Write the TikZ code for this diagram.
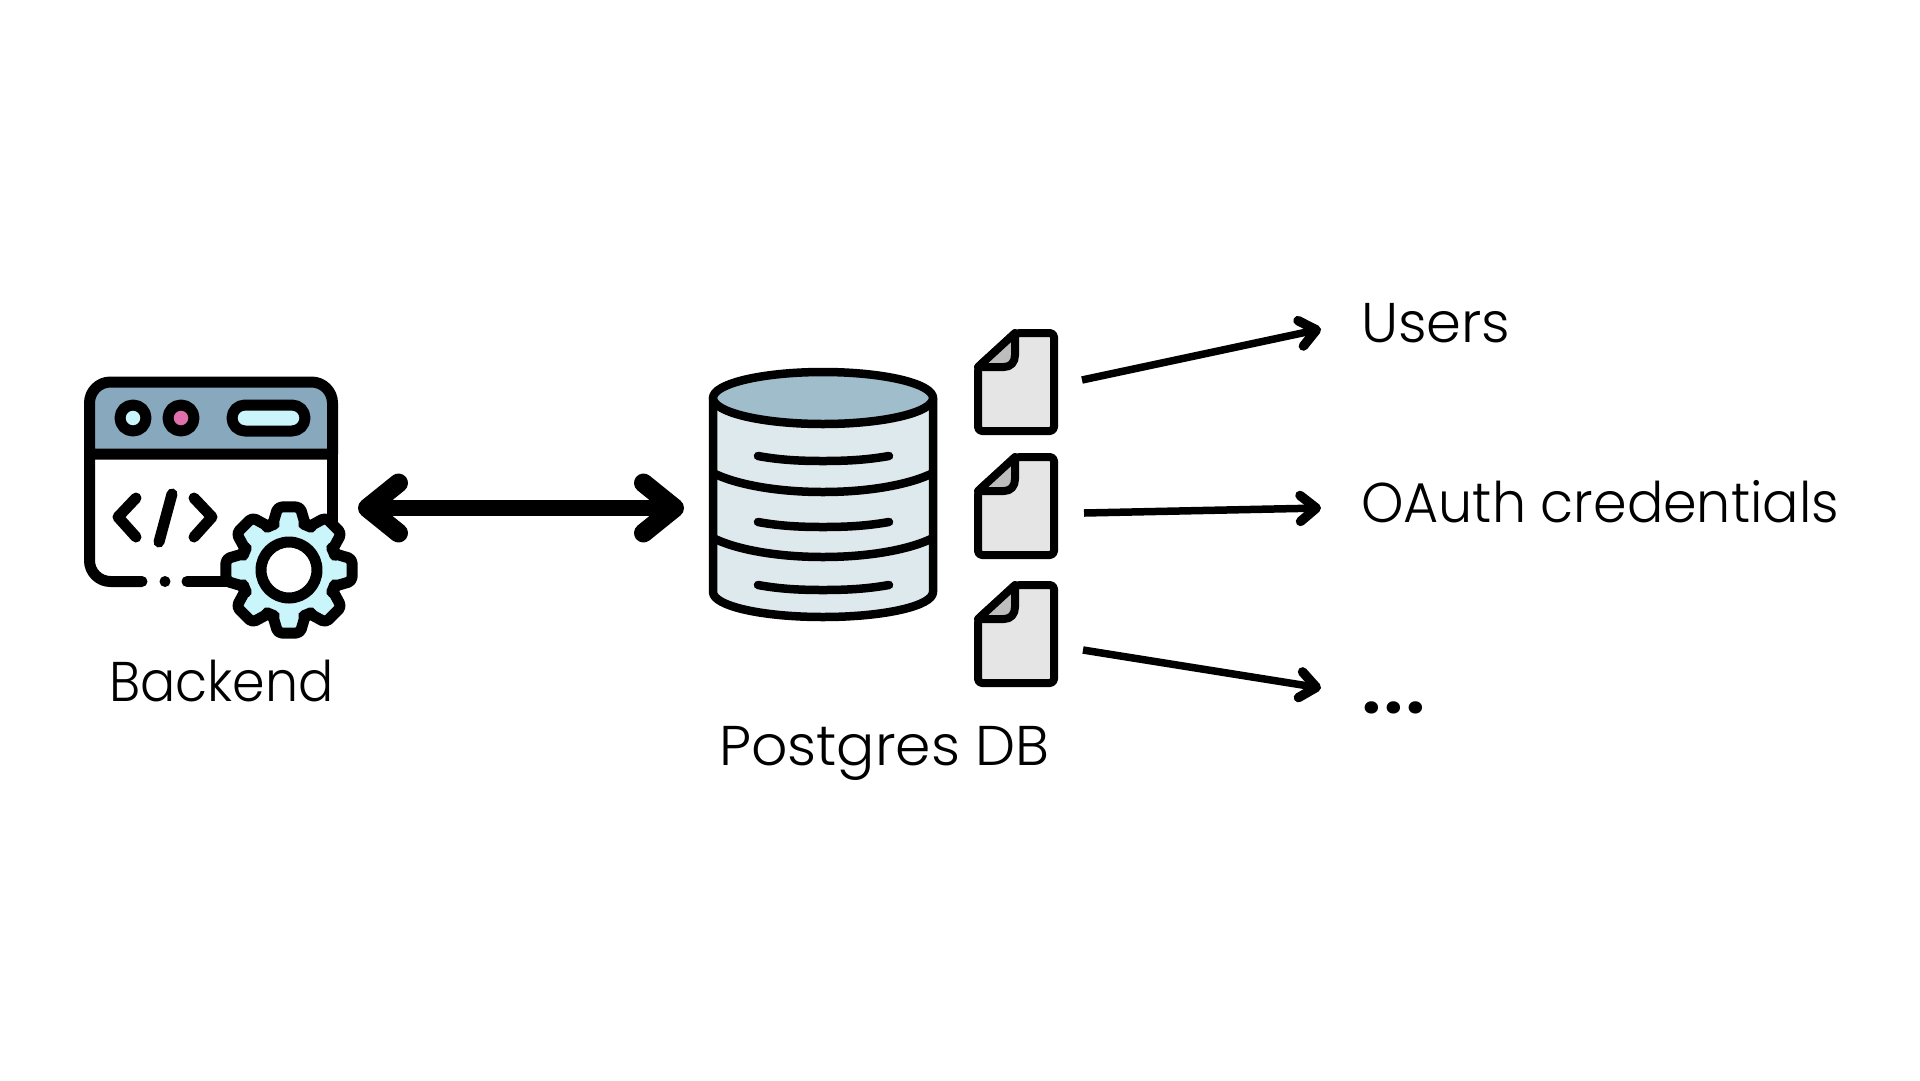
\documentclass[tikz,border=0pt]{standalone}
\usepackage{fontspec}
\setmainfont{Poppins Light}
\newfontfamily\dotfont{Poppins Bold}
\usetikzlibrary{arrows.meta,calc}
\definecolor{headblue}{HTML}{88A8BE}
\definecolor{paleblue}{HTML}{C9F5FB}
\definecolor{pinkdot}{HTML}{E070AC}
\definecolor{dbtop}{HTML}{9FBDCB}
\definecolor{dbbody}{HTML}{DEE9ED}
\definecolor{docbody}{HTML}{E5E5E5}
\definecolor{docfold}{HTML}{BDBDBD}
\tikzset{
  iconbox/.style={inner sep=0pt,outer sep=0pt,draw=none,fill=none},
  ink/.style={draw=black,line join=round,line cap=round},
  win/.style={ink,line width=11pt},
  dbline/.style={ink,line width=8.5pt},
  docline/.style={ink,line width=8pt},
  label/.style={anchor=base west,inner sep=0pt,outer sep=0pt,font=\fontsize{56}{60}\selectfont},
  bigarrow/.style={draw=black,line width=16.5pt,{Straight Barb[round,line width=19pt,length=31pt,width=50pt]}-{Straight Barb[round,line width=19pt,length=31pt,width=50pt]}},
  smallarrow/.style={draw=black,line width=7.5pt,-{Straight Barb[round,line width=9.5pt,length=16pt,width=26pt]}},
  docicon/.pic={
    \draw[docline,fill=docbody,rounded corners=4pt] (0,34) -- (38,0) -- (76,0) -- (76,98) -- (0,98) -- cycle;
    \draw[docline,fill=docfold] (0,34) -- (37,0) -- (37,22) .. controls (37,29) and (33,34) .. (26,34) -- cycle;
  }
}
\begin{document}
\begin{tikzpicture}[x=1pt,y=-1pt]
\useasboundingbox (0,0) rectangle (1920,1080);
\fill[white] (0,0) rectangle (1920,1080);

% invisible boxes of the icons
\node[iconbox,minimum width=274pt,minimum height=262pt] (backend) at (221,508) {};
\node[iconbox,minimum width=230pt,minimum height=282pt] (db) at (823,508) {};
\node[iconbox,minimum width=84pt,minimum height=106pt] (doc1) at (1016,382) {};
\node[iconbox,minimum width=84pt,minimum height=106pt] (doc2) at (1016,506) {};
\node[iconbox,minimum width=84pt,minimum height=106pt] (doc3) at (1016,634) {};

% window
\fill[white] (89.5,454) rectangle (332.5,581.5);
\draw[win,fill=headblue] (89.5,454) [rounded corners=21pt] -- (89.5,382) -- (332.5,382) [sharp corners] -- (332.5,454) -- cycle;
\draw[win] (89.5,454) [rounded corners=21pt] -- (89.5,581.5) [sharp corners] -- (142,581.5);
\draw[win] (332.5,454) -- (332.5,525);
\fill (165,581.5) circle[radius=5.5pt];
\draw[win] (187,581.5) -- (240,581.5);
\draw[win,fill=paleblue] (133,418) circle[radius=13pt];
\draw[win,fill=pinkdot] (181,418) circle[radius=13pt];
\draw[win,fill=paleblue] (232,405) [rounded corners=13pt] -- (305,405) -- (305,431) -- (232,431) -- cycle;
\draw[win] (136,498) -- (118,517) -- (136,537);
\draw[win] (172,494) -- (159,542);
\draw[win] (194,498) -- (212,517) -- (194,537);

% gear
\begin{scope}[shift={(289,570)}]
\draw[win,fill=paleblue,rounded corners=4pt]
  (-22.5:48) \foreach \a in {0,45,...,315} { -- (\a-20:48) -- (\a-10:64) -- (\a+10:64) -- (\a+20:48) -- (\a+22.5:48) } -- cycle;
\draw[win,fill=white] (0,0) circle[radius=28pt];
\end{scope}

% database
\draw[dbline,fill=dbbody] (713,398) -- (713,592) .. controls (713,606) and (762,617) .. (823,617) .. controls (884,617) and (933,606) .. (933,592) -- (933,398) -- cycle;
\draw[dbline,fill=dbtop] (823,398) ellipse[x radius=110pt,y radius=26pt];
\draw[dbline] (713,473) .. controls (735,484) and (775,492) .. (823,492) .. controls (871,492) and (911,484) .. (933,473);
\draw[dbline] (713,538) .. controls (735,549) and (775,557) .. (823,557) .. controls (871,557) and (911,549) .. (933,538);
\draw[dbline] (758,456) .. controls (780,460) and (800,461) .. (823,461) .. controls (846,461) and (866,460) .. (889,456);
\draw[dbline] (758,522) .. controls (780,526) and (800,527) .. (823,527) .. controls (846,527) and (866,526) .. (889,522);
\draw[dbline] (758,585) .. controls (780,589) and (800,590) .. (823,590) .. controls (846,590) and (866,589) .. (889,585);

% documents
\pic at (978,333) {docicon};
\pic at (978,457) {docicon};
\pic at (978,585) {docicon};

% labels
\node[label] (lbackend) at (109,701) {\scalebox{0.933}[1]{Backend}};
\node[label] (lpostgres) at (719,765) {\scalebox{1.015}[1]{Postgres DB}};
\node[label] (lusers) at (1361,342) {Users};
\node[label] (loauth) at (1361,522) {\scalebox{0.963}[1]{OAuth credentials}};
\node[label,font=\dotfont\fontsize{66}{70}\selectfont] (lmore) at (1362,713) {.\kern3.5pt.\kern3.5pt.};

% connectors
\coordinate (t1) at (1321,329);
\coordinate (t2) at (1321,508);
\coordinate (t3) at (1321,688);
\draw[bigarrow] (backend.east) -- ([xshift=-24pt]db.west);
\draw[smallarrow] ([shift={(24,-2)}]doc1.east) -- (t1);
\draw[smallarrow] ([shift={(26,7)}]doc2.east) -- (t2);
\draw[smallarrow] ([shift={(25,16)}]doc3.east) -- (t3);
\end{tikzpicture}
\end{document}
